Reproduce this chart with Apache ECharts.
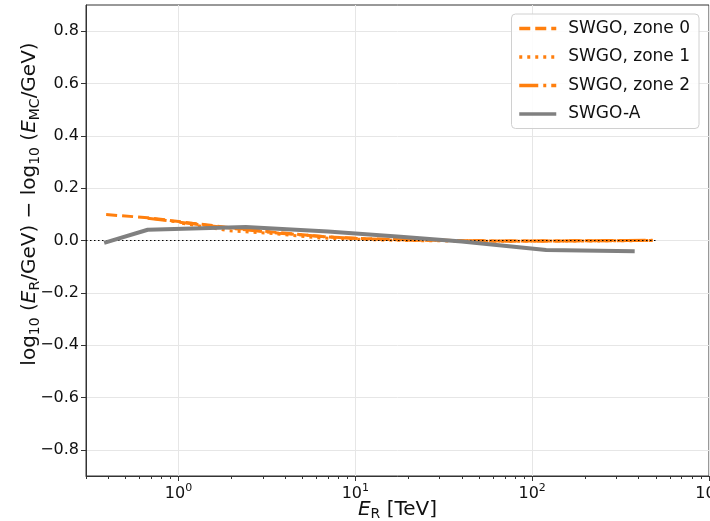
<!DOCTYPE html>
<html><head><meta charset="utf-8">
<script src="https://cdn.jsdelivr.net/npm/echarts@6/dist/echarts.min.js"></script>
<style>html,body{margin:0;padding:0;background:#fff}#c{width:710px;height:521px}</style>
</head><body><div id="c"></div>
<script>
// ---- data (energies in TeV, bias values) ----
const xMin = 0.3, xMax = 1000;
const yMin = -0.9, yMax = 0.9;
const yTicks = [-0.8, -0.6, -0.4, -0.2, 0.0, 0.2, 0.4, 0.6, 0.8];
const xMajorTicks = [1, 10, 100, 1000];
const xMinorTicks = [0.3, 0.4, 0.5, 0.6, 0.7, 0.8, 0.9,
  2, 3, 4, 5, 6, 7, 8, 9, 20, 30, 40, 50, 60, 70, 80, 90,
  200, 300, 400, 500, 600, 700, 800, 900];

const zone0E = [0.39, 0.67, 1.2, 2.1, 3.7, 6.5, 11.5, 20, 36, 65, 115, 200, 480];
const zone0Y = [0.099, 0.087, 0.066, 0.047, 0.030, 0.015, 0.007, 0.002, 0.0, -0.002, -0.002, -0.001, 0.0];
const zone1E = [1.05, 1.9, 3.5, 6.3, 11, 20, 36, 65, 115, 200, 480];
const zone1Y = [0.066, 0.038, 0.026, 0.010, 0.004, 0.0, -0.002, -0.003, -0.002, -0.002, 0.0];
const zone2E = [0.67, 1.2, 2.1, 3.7, 6.5, 11.5, 20, 36, 65, 115, 200, 480];
const zone2Y = [0.085, 0.064, 0.045, 0.028, 0.015, 0.006, 0.002, 0.0, -0.002, -0.002, -0.001, 0.001];
const swgoAE = [0.38, 0.67, 2.4, 7, 18, 40, 120, 380];
const swgoAY = [-0.009, 0.041, 0.052, 0.034, 0.014, -0.004, -0.036, -0.041];
const zeroLineE = [0.3, 500];
const zeroLineY = [0, 0];

const seriesNames = ['SWGO, zone 0', 'SWGO, zone 1', 'SWGO, zone 2', 'SWGO-A'];

const lg = Math.log10;
const pts = (E, Y) => E.map((e, i) => [lg(e), Y[i]]);

const chart = echarts.init(document.getElementById('c'), null, {renderer: 'canvas'});
const FONT = 'DejaVu Sans';
const AX = '#333';

const option = {
  animation: false,
  backgroundColor: '#fff',
  textStyle: {fontFamily: FONT},
  grid: {left: 86, right: 1, top: 5, bottom: 45, show: true, borderColor: AX, borderWidth: 1,
         containLabel: false, outerBoundsMode: 'none'},
  xAxis: [{
    type: 'value', min: lg(xMin), max: lg(xMax),
    axisLine: {show: true, onZero: false, lineStyle: {color: AX}},
    axisTick: {show: true, length: 5, inside: false, customValues: xMajorTicks.map(lg), lineStyle: {color: AX}},
    axisLabel: {
      customValues: xMajorTicks.map(lg), margin: 7, color: '#111',
      formatter: v => '{b|10}{s|' + Math.round(v) + '}',
      rich: {b: {fontSize: 16, fontFamily: FONT, lineHeight: 22, color: '#111'},
             s: {fontSize: 11, fontFamily: FONT, lineHeight: 11, verticalAlign: 'top', color: '#111'}}
    },
    splitLine: {show: true, lineStyle: {color: '#e6e6e6', width: 1}},
    name: '{i|E}{s|R}{n| [TeV]}', nameLocation: 'middle', nameGap: 23, nameMoveOverlap: false,
    nameTextStyle: {rich: {
      i: {fontSize: 20, fontStyle: 'italic', fontFamily: FONT, color: '#111', lineHeight: 22},
      s: {fontSize: 14, fontFamily: FONT, color: '#111', lineHeight: 14, verticalAlign: 'bottom'},
      n: {fontSize: 20, fontFamily: FONT, color: '#111', lineHeight: 22}
    }}
  }, {
    type: 'value', min: lg(xMin), max: lg(xMax), position: 'bottom', gridIndex: 0,
    axisLine: {show: false, onZero: false},
    axisTick: {show: true, length: 3, customValues: xMinorTicks.map(lg), lineStyle: {color: AX}},
    axisLabel: {show: false}, splitLine: {show: false}
  }],
  yAxis: {
    type: 'value', min: yMin, max: yMax,
    axisLine: {show: true, onZero: false, lineStyle: {color: AX}},
    axisTick: {show: true, length: 5, customValues: yTicks, lineStyle: {color: AX}},
    axisLabel: {customValues: yTicks, margin: 7, fontSize: 16, color: '#111', fontFamily: FONT,
      formatter: v => (v < 0 ? '\u2212' : '') + Math.abs(v).toFixed(1)},
    splitLine: {show: true, lineStyle: {color: '#e6e6e6', width: 1}}
  },
  legend: {
    data: seriesNames, orient: 'vertical', right: 11, top: 14,
    backgroundColor: 'rgba(255,255,255,0.85)', borderColor: '#d0d0d0', borderWidth: 1, borderRadius: 4,
    padding: [6, 9, 6, 6], itemWidth: 37, itemHeight: 14, itemGap: 11.5,
    itemStyle: {opacity: 0},
    lineStyle: {width: 3.5},
    textStyle: {fontSize: 17, fontFamily: FONT, color: '#111', padding: [0, 0, 0, 7]}
  },
  graphic: [{
    type: 'text', x: 30, y: 204, rotation: Math.PI / 2,
    style: {
      text: '{n|log}{s|10}{n| (}{i|E}{s|R}{n|/GeV) \u2212 log}{s|10}{n| (}{i|E}{s|MC}{n|/GeV)}',
      align: 'center', verticalAlign: 'middle',
      rich: {
        n: {fontSize: 20, fontFamily: FONT, fill: '#111', lineHeight: 25},
        i: {fontSize: 20, fontFamily: FONT, fontStyle: 'italic', fill: '#111', lineHeight: 25},
        s: {fontSize: 14, fontFamily: FONT, fill: '#111', lineHeight: 14, verticalAlign: 'bottom'}
      }
    }
  }],
  series: [
    {name: seriesNames[0], type: 'line', data: pts(zone0E, zone0Y), showSymbol: false, symbol: 'none',
     lineStyle: {color: '#ff7f0e', width: 3, type: [11, 5]}, itemStyle: {color: '#ff7f0e'}, z: 2},
    {name: seriesNames[1], type: 'line', data: pts(zone1E, zone1Y), showSymbol: false, symbol: 'none',
     lineStyle: {color: '#ff7f0e', width: 3, type: [3, 5]}, itemStyle: {color: '#ff7f0e'}, z: 2},
    {name: seriesNames[2], type: 'line', data: pts(zone2E, zone2Y), showSymbol: false, symbol: 'none',
     lineStyle: {color: '#ff7f0e', width: 3, type: [19, 5, 3, 5]}, itemStyle: {color: '#ff7f0e'}, z: 2},
    {name: 'zero', type: 'line', data: pts(zeroLineE, zeroLineY), showSymbol: false, symbol: 'none',
     lineStyle: {color: '#000', width: 1.2, type: [1.5, 2.5]}, z: 3, silent: true},
    {name: seriesNames[3], type: 'line', data: pts(swgoAE, swgoAY), showSymbol: false, symbol: 'none',
     lineStyle: {color: '#808080', width: 4}, itemStyle: {color: '#808080'}, z: 4}
  ]
};
chart.setOption(option);
</script>
</body></html>
